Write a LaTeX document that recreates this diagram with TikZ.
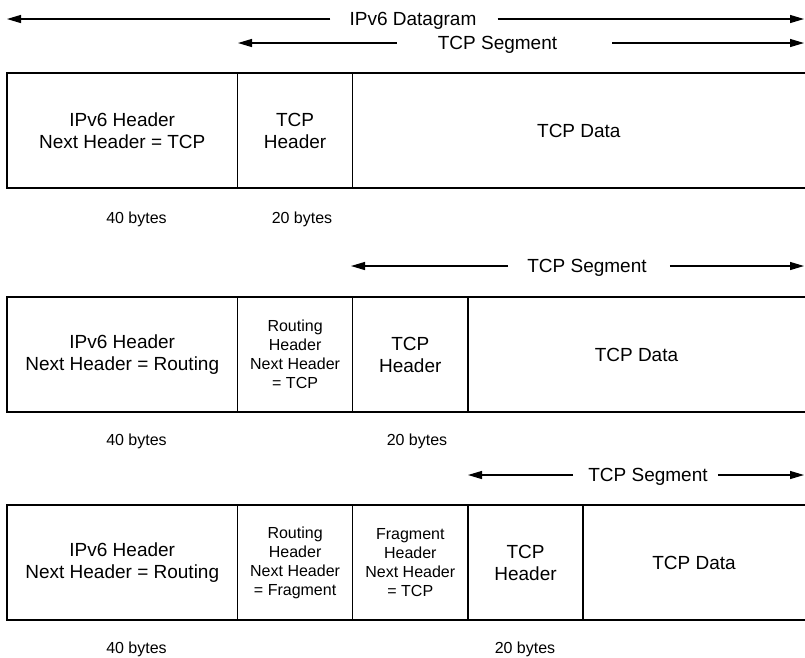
\documentclass[tikz,border=0pt]{standalone}
\usepackage{fontspec}
\setmainfont{Liberation Sans}
\usetikzlibrary{arrows.meta,positioning}

\begin{document}
\begin{tikzpicture}[x=1pt, y=-1pt,
    cell/.style={draw, line width=1.4pt, outer sep=0pt, inner sep=0pt, minimum height=115pt, align=center, font=\fontsize{19}{22}\selectfont},
    smallcell/.style={cell, font=\fontsize{16}{19}\selectfont},
    datacell/.style={cell, draw=none},
    bytes/.style={anchor=base, inner sep=0pt, font=\fontsize{16}{19}\selectfont},
    span/.style={inner sep=0pt, text depth=0pt, font=\fontsize{19}{22}\selectfont},
    spanarrow/.style={line width=1.2pt, -{Triangle[length=14pt,width=8pt]}}]
    \useasboundingbox (0,0) rectangle (805,657);

    % spans over the first row
    \node[span] (dgram) at (413,19) {IPv6 Datagram};
    \coordinate (dgramL) at (7,19);
    \coordinate (dgramR) at (804,19);
    \draw[spanarrow, shorten <=19pt] (dgram.west) -- (dgramL);
    \draw[spanarrow, shorten <=21pt] (dgram.east) -- (dgramR);

    \node[span] (segA) at (497.5,43) {TCP Segment};
    \coordinate (segAL) at (238,43);
    \coordinate (segAR) at (804,43);
    \draw[spanarrow, shorten <=41pt] (segA.west) -- (segAL);
    \draw[spanarrow, shorten <=55pt] (segA.east) -- (segAR);

    % row 1: no extension header
    \node[cell, minimum width=230.5pt, anchor=north west] (ipA) at (7,73) {IPv6 Header\\Next Header = TCP};
    \node[cell, minimum width=115.2pt, right=0pt of ipA] (tcpA) {TCP\\Header};
    \node[datacell, minimum width=452.3pt, right=0pt of tcpA] (dataA) {TCP Data};
    \draw[line width=1.4pt] (dataA.north west) -- (dataA.north east)
        (dataA.south west) -- (dataA.south east);
    \node[bytes] (lenA1) at (136.5,223) {40 bytes};
    \node[bytes] (lenA2) at (302,223) {20 bytes};

    % row 2: routing header
    \node[span] (segB) at (587,266) {TCP Segment};
    \coordinate (segBL) at (351,266);
    \coordinate (segBR) at (804,266);
    \draw[spanarrow, shorten <=19pt] (segB.west) -- (segBL);
    \draw[spanarrow, shorten <=23pt] (segB.east) -- (segBR);

    \node[cell, minimum width=230.5pt, anchor=north west] (ipB) at (7,297) {IPv6 Header\\Next Header = Routing};
    \node[smallcell, minimum width=115.2pt, right=0pt of ipB] (rtB) {Routing\\Header\\Next Header\\= TCP};
    \node[cell, minimum width=115.2pt, right=0pt of rtB] (tcpB) {TCP\\Header};
    \node[datacell, minimum width=337.1pt, right=0pt of tcpB] (dataB) {TCP Data};
    \draw[line width=1.4pt] (dataB.north west) -- (dataB.north east)
        (dataB.south west) -- (dataB.south east);
    \node[bytes] (lenB1) at (136.5,445) {40 bytes};
    \node[bytes] (lenB2) at (417,445) {20 bytes};

    % row 3: routing + fragment headers
    \node[span] (segC) at (648,475) {TCP Segment};
    \coordinate (segCL) at (468,475);
    \coordinate (segCR) at (804,475);
    \draw[spanarrow, shorten <=15pt] (segC.west) -- (segCL);
    \draw[spanarrow, shorten <=10pt] (segC.east) -- (segCR);

    \node[cell, minimum width=230.5pt, anchor=north west] (ipC) at (7,505) {IPv6 Header\\Next Header = Routing};
    \node[smallcell, minimum width=115.2pt, right=0pt of ipC] (rtC) {Routing\\Header\\Next Header\\= Fragment};
    \node[smallcell, minimum width=115.2pt, right=0pt of rtC] (frC) {Fragment\\Header\\Next Header\\= TCP};
    \node[cell, minimum width=115.2pt, right=0pt of frC] (tcpC) {TCP\\Header};
    \node[datacell, minimum width=221.9pt, right=0pt of tcpC] (dataC) {TCP Data};
    \draw[line width=1.4pt] (dataC.north west) -- (dataC.north east)
        (dataC.south west) -- (dataC.south east);
    \node[bytes] (lenC1) at (136.5,653) {40 bytes};
    \node[bytes] (lenC2) at (525,653) {20 bytes};
\end{tikzpicture}
\end{document}
